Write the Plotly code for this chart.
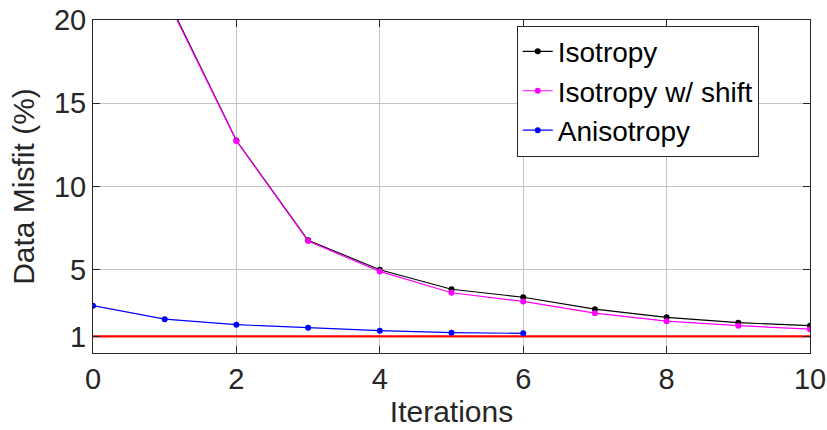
import plotly.graph_objects as go

# Misfit per iteration for each inversion scheme
iterations = [0, 1, 2, 3, 4, 5, 6, 7, 8, 9, 10]
isotropy = [32.0, 21.6, 12.76, 6.77, 5.0, 3.83, 3.35, 2.63, 2.14, 1.82, 1.64]
isotropy_shift = [31.8, 21.5, 12.74, 6.72, 4.9, 3.62, 3.1, 2.39, 1.91, 1.64, 1.43]
aniso_iters = [0, 1, 2, 3, 4, 5, 6]
anisotropy = [2.84, 2.03, 1.70, 1.52, 1.34, 1.22, 1.18]
target_x = [0, 10]
target_misfit = [1, 1]

FONT = "Liberation Sans, Arial, Helvetica, sans-serif"
AX = "#262626"

fig = go.Figure()
fig.add_trace(go.Scatter(x=target_x, y=target_misfit, mode="lines",
                         line=dict(color="#ff0000", width=2.2), showlegend=False))
fig.add_trace(go.Scatter(x=iterations, y=isotropy, name="Isotropy", mode="lines+markers",
                         line=dict(color="#000000", width=1.2),
                         marker=dict(color="#000000", size=6)))
fig.add_trace(go.Scatter(x=iterations, y=isotropy_shift, name="Isotropy w/ shift",
                         mode="lines+markers",
                         line=dict(color="#ff00ff", width=1.2),
                         marker=dict(color="#ff00ff", size=6)))
fig.add_trace(go.Scatter(x=aniso_iters, y=anisotropy, name="Anisotropy", mode="lines+markers",
                         line=dict(color="#0000ff", width=1.2),
                         marker=dict(color="#0000ff", size=6)))

axis_common = dict(
    showline=True, linecolor=AX, linewidth=1, mirror="allticks",
    ticks="inside", ticklen=7, tickcolor=AX, tickwidth=1,
    showgrid=True, gridcolor="#c4c4c4", gridwidth=1, zeroline=False,
    tickfont=dict(family=FONT, size=29, color=AX),
    automargin=False,
)

fig.update_xaxes(range=[0, 10], tickvals=[0, 2, 4, 6, 8, 10],
                 title=dict(text="Iterations", font=dict(family=FONT, size=30, color=AX),
                            standoff=7),
                 **axis_common)
fig.update_yaxes(range=[0, 20], tickvals=[1, 5, 10, 15, 20],
                 title=dict(text="Data Misfit (%)", font=dict(family=FONT, size=30, color=AX),
                            standoff=10),
                 **axis_common)

fig.update_layout(
    width=827, height=430,
    margin=dict(l=93, r=17, t=20, b=77),
    paper_bgcolor="white", plot_bgcolor="white",
    font=dict(family=FONT, color=AX),
    legend=dict(x=0.591, y=0.983, xanchor="left", yanchor="top",
                bgcolor="white", bordercolor="#262626", borderwidth=1,
                font=dict(family=FONT, size=28, color="#000000"),
                itemwidth=30, tracegroupgap=0,
                entrywidth=280, entrywidthmode="pixels"),
)

fig.write_html("out.html")
